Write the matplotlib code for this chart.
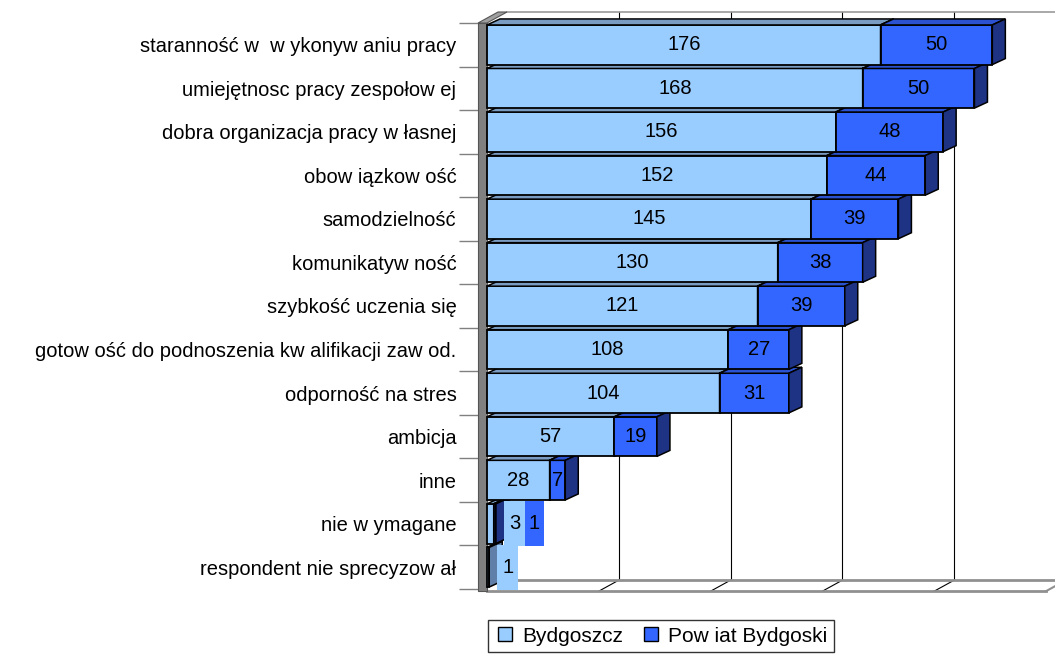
import matplotlib
matplotlib.use("Agg")
import matplotlib.pyplot as plt
from matplotlib.patches import Polygon, Rectangle
from matplotlib.lines import Line2D
import numpy as np

plt.rcParams['font.family'] = ['Liberation Sans', 'DejaVu Sans']

categories = [
    "staranność w  w ykonyw aniu pracy",
    "umiejętnosc pracy zespołow ej",
    "dobra organizacja pracy w łasnej",
    "obow iązkow ość",
    "samodzielność",
    "komunikatyw ność",
    "szybkość uczenia się",
    "gotow ość do podnoszenia kw alifikacji zaw od.",
    "odporność na stres",
    "ambicja",
    "inne",
    "nie w ymagane",
    "respondent nie sprecyzow ał",
]
bydgoszcz = [176, 168, 156, 152, 145, 130, 121, 108, 104, 57, 28, 3, 1]
powiat = [50, 50, 48, 44, 39, 38, 39, 27, 31, 19, 7, 1, 0]
series_names = ["Bydgoszcz", "Pow iat Bydgoski"]
grid_values = [50, 100, 150, 200]
x_max = 250

# colours
front_c = ["#99CCFF", "#3366FF"]
top_c = ["#7A9CC2", "#2A52D1"]
side_c = ["#5F7FA8", "#1F3385"]

W, H = 1055, 655
fig = plt.figure(figsize=(W / 100, H / 100), dpi=100)
px_per_unit = 2.236
ax_left_px, ax_w_px = 487, 568
ax_top_px, ax_h_px = 23.0, 566.0
ax = fig.add_axes([ax_left_px / W, (H - ax_top_px - ax_h_px) / H, ax_w_px / W, ax_h_px / H])
ax.set_xlim(0, ax_w_px / px_per_unit)
n = len(categories)
ax.set_ylim(n - 0.5, -0.5)
pos = np.arange(n)

# depth offsets (data units)
DX, DY = 20 / px_per_unit, -11 / 43.5     # walls
BX, BY = 13 / px_per_unit, -6 / 43.5      # bars
hh = 0.455

for s in ['top', 'right', 'bottom', 'left']:
    ax.spines[s].set_visible(False)
ax.set_xticks([])
ax.set_yticks(pos, categories)
ax.set_yticks(np.arange(-0.5, n), minor=True)
ax.tick_params(axis='y', which='major', length=0, pad=22, labelsize=14.5)
ax.tick_params(axis='y', which='minor', length=20, color='#808080', width=1)

# back wall gridlines and top frame
ytop, ybot = -0.5, n - 0.5 + 0.05
for g in grid_values:
    ax.plot([g + DX, g + DX], [ytop + DY, ybot + DY], color='black', lw=0.8, zorder=1, clip_on=False)
    ax.plot([g, g + DX], [ybot, ybot + DY], color='black', lw=0.8, zorder=1, clip_on=False)
ax.plot([DX, x_max + DX], [ytop + DY, ytop + DY], color='#999999', lw=1.2, zorder=1, clip_on=False)
# floor
ax.plot([DX, x_max + DX], [ybot + DY, ybot + DY], color='#909090', lw=2, zorder=1, clip_on=False)
ax.plot([0, x_max], [ybot, ybot], color='#909090', lw=2, zorder=1, clip_on=False)
ax.plot([x_max, x_max + DX], [ybot, ybot + DY], color='#909090', lw=1.5, zorder=1, clip_on=False)
# left wall slab
wt = 4.0
ax.add_patch(Rectangle((-wt, ytop), wt, ybot - ytop, facecolor='#808080', edgecolor='#555555', lw=0.8, zorder=2, clip_on=False))
ax.add_patch(Polygon([(-wt, ytop), (0, ytop), (DX, ytop + DY), (DX - wt, ytop + DY)], closed=True,
                     facecolor='#A0A0A0', edgecolor='#555555', lw=0.8, zorder=2, clip_on=False))

# bars
starts = [np.zeros(n), np.array(bydgoszcz, dtype=float)]
vals = [np.array(bydgoszcz, dtype=float), np.array(powiat, dtype=float)]
for k in range(2):
    bars = ax.barh(pos, vals[k], left=starts[k], height=2 * hh, color=front_c[k],
                   edgecolor='black', linewidth=1.3, clip_on=False)
    for i, b in enumerate(bars):
        z = 10 + (n - i) * 10 + k * 4
        b.set_zorder(z)
        v = vals[k][i]
        if v <= 0:
            b.set_visible(False)
            continue
        x0, x1 = starts[k][i], starts[k][i] + v
        yt, yb = pos[i] - hh, pos[i] + hh
        ax.add_patch(Polygon([(x0, yt), (x1, yt), (x1 + BX, yt + BY), (x0 + BX, yt + BY)], closed=True,
                             facecolor=top_c[k], edgecolor='black', lw=1.1, zorder=z + 1, clip_on=False))
        ax.add_patch(Polygon([(x1, yt), (x1 + BX, yt + BY), (x1 + BX, yb + BY), (x1, yb)], closed=True,
                             facecolor=side_c[k], edgecolor='black', lw=1.1, zorder=z + 1, clip_on=False))

# value labels
for i in range(n):
    total = bydgoszcz[i] + powiat[i]
    if bydgoszcz[i] >= 5:
        for k in range(2):
            v = vals[k][i]
            if v > 0:
                ax.text(starts[k][i] + v / 2, pos[i], f"{int(v)}", ha='center', va='center',
                        fontsize=14.5, zorder=500)
    else:
        left = total + 3.5
        widths = [9.5, 8.5]
        for k in range(2):
            v = vals[k][i]
            if v <= 0:
                continue
            ax.add_patch(Rectangle((left, pos[i] - 0.52), widths[k], 1.04, facecolor=front_c[k],
                                   edgecolor='none', zorder=400, clip_on=False))
            ax.text(left + widths[k] / 2, pos[i], f"{int(v)}", ha='center', va='center',
                    fontsize=14.5, zorder=500)
            left += widths[k]

handles = [Line2D([], [], marker='s', linestyle='none', markersize=10, markerfacecolor=front_c[k],
                  markeredgecolor='black', markeredgewidth=1) for k in range(2)]
fig.legend(handles, series_names, loc='center', bbox_to_anchor=(661 / W, 1 - 636 / H), ncol=2,
           frameon=True, fancybox=False, edgecolor='black', fontsize=15, handletextpad=0.35,
           columnspacing=0.8, borderpad=0.3, handlelength=1.0, borderaxespad=0)

fig.savefig("out.png", dpi=100)
